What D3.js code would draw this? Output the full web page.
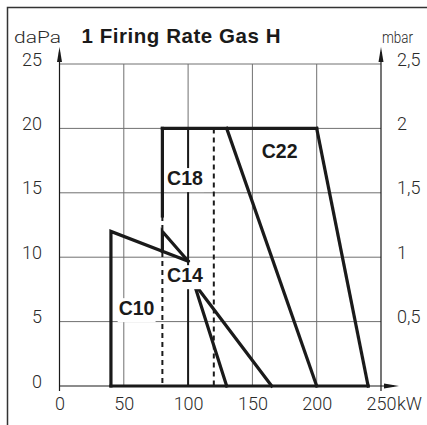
<!DOCTYPE html>
<html><head><meta charset="utf-8">
<script src="https://cdn.jsdelivr.net/npm/d3@7"></script>
<style>
html,body{margin:0;padding:0;background:#fff;}
svg{display:block;}
.light{font-family:Roboto,"DejaVu Sans",sans-serif;font-weight:300;fill:#2a2a2a;}
.bold{font-family:"Liberation Sans",Arial,sans-serif;font-weight:bold;fill:#1a1a1a;}
</style></head>
<body>
<script>
// ---- data ----
const title = "1 Firing Rate Gas H";
const leftUnit = "daPa";
const rightUnit = "mbar";
const xUnit = "kW";
const xTicks = [0, 50, 100, 150, 200, 250];
const yTicks = [0, 5, 10, 15, 20, 25];
const mbarTickValues = [0.5, 1, 1.5, 2, 2.5];
const mbarTickLabels = ["0,5", "1", "1,5", "2", "2,5"];
const curveNames = ["C10", "C18", "C14", "C22"];
// thick solid curve segments [kW, daPa]
const c10Line = [[40, 0], [40, 12], [100, 9.7]];
const c18Upper = [[80, 20], [80, 13.2]];
const c18Wedge = [[80, 10.47], [80, 12], [100, 9.7]];
const c14Left = [[104.5, 8], [130, 0]];
const c14Right = [[104.5, 8], [165, 0]];
const c22Top = [[80, 20], [200, 20]];
const c22Left = [[130, 20], [200, 0]];
const c22Right = [[200, 20], [240, 0]];
const baseLine = [[40, 0], [240, 0]];
// medium solid
const c14Edge = [[100, 20], [100, 0]];
// dashed
const dash80 = [[80, 13.2], [80, 0]];
const dash120 = [[120, 20], [120, 0]];
// label anchors [kW, daPa]
const labelAnchors = {C10: [59.9, 5.5], C18: [97.6, 15.6], C14: [97.6, 8.06], C22: [171.2, 17.7]};

// ---- chart ----
const W = 427, H = 425;
const svg = d3.select("body").append("svg").attr("width", W).attr("height", H);
const x = d3.scaleLinear().domain([0, 250]).range([59.5, 381]);
const y = d3.scaleLinear().domain([0, 25]).range([386, 64]);
const yMbar = d3.scaleLinear().domain([0, 2.5]).range([386, 64]);
const line = d3.line().x(d => x(d[0])).y(d => y(d[1]));

// page frame (top + left)
svg.append("path").attr("d", `M7.5,${H} L7.5,7.5 L${W},7.5`)
  .attr("fill", "none").attr("stroke", "#333").attr("stroke-width", 1.5);

// grid
const grid = svg.append("g").attr("stroke", "#707070").attr("stroke-width", 1);
xTicks.slice(1, -1).forEach(v => grid.append("line")
  .attr("x1", x(v)).attr("x2", x(v)).attr("y1", y(0)).attr("y2", y(25)));
yTicks.slice(1).forEach(v => grid.append("line")
  .attr("x1", x(0)).attr("x2", x(250)).attr("y1", y(v)).attr("y2", y(v)));

// axes lines with arrows
const ax = svg.append("g").attr("stroke", "#1a1a1a").attr("stroke-width", 1.2);
ax.append("line").attr("x1", x(0)).attr("x2", x(0)).attr("y1", y(0) + 5).attr("y2", 52);
ax.append("line").attr("x1", x(250)).attr("x2", x(250)).attr("y1", y(0) + 5).attr("y2", 52);
ax.append("line").attr("x1", x(0)).attr("x2", 394).attr("y1", y(0)).attr("y2", y(0));
const arr = svg.append("g").attr("fill", "#1a1a1a");
[x(0), x(250)].forEach(px => arr.append("path")
  .attr("d", `M${px},47 L${px - 2.5},62 L${px + 2.5},62 Z`));
arr.append("path").attr("d", `M399,${y(0)} L384,${y(0) - 2.5} L384,${y(0) + 2.5} Z`);

// x-axis labels
const xAxis = d3.axisBottom(x).tickValues(xTicks).tickSize(0).tickPadding(0).tickFormat(d3.format("d"));
const gx = svg.append("g").attr("transform", `translate(0,${y(0)})`).call(xAxis);
gx.select(".domain").remove();
gx.selectAll("text").attr("class", "light").attr("font-size", 18).attr("fill", null)
  .attr("dy", null).attr("y", 24);
svg.append("text").attr("class", "light").attr("font-size", 18)
  .attr("x", x(250) + 16).attr("y", y(0) + 24).text(xUnit);

// left axis labels
const yAxis = d3.axisLeft(y).tickValues(yTicks).tickSize(0).tickPadding(0).tickFormat(d3.format("d"));
const gy = svg.append("g").attr("transform", `translate(42,0)`).call(yAxis);
gy.select(".domain").remove();
gy.selectAll("text").attr("class", "light").attr("font-size", 18).attr("fill", null)
  .attr("dy", null).attr("y", 1).attr("x", 0);

// right axis labels
const yAxisR = d3.axisRight(yMbar).tickValues(mbarTickValues).tickSize(0).tickPadding(0)
  .tickFormat((d, i) => mbarTickLabels[i]);
const gyr = svg.append("g").attr("transform", `translate(397,0)`).call(yAxisR);
gyr.select(".domain").remove();
gyr.selectAll("text").attr("class", "light").attr("font-size", 18).attr("fill", null)
  .attr("dy", null).attr("y", 1).attr("x", 0);

// units & title
svg.append("text").attr("class", "light").attr("font-size", 17)
  .attr("x", 14).attr("y", 43).attr("textLength", 47).attr("lengthAdjust", "spacingAndGlyphs").text(leftUnit);
svg.append("text").attr("class", "light").attr("font-size", 17)
  .attr("x", 382).attr("y", 43).attr("textLength", 31).attr("lengthAdjust", "spacingAndGlyphs").text(rightUnit);
svg.append("text").attr("class", "bold").attr("font-size", 20.5)
  .attr("x", 81.5).attr("y", 43).attr("textLength", 199).attr("lengthAdjust", "spacing").text(title);

// dashed lines
const dg = svg.append("g").attr("fill", "none").attr("stroke", "#1a1a1a")
  .attr("stroke-width", 2).attr("stroke-dasharray", "5,4");
[dash80, dash120].forEach(d => dg.append("path").attr("d", line(d)));

// medium line at 100
svg.append("path").attr("d", line(c14Edge)).attr("fill", "none")
  .attr("stroke", "#1a1a1a").attr("stroke-width", 2);

// thick curves
const cg = svg.append("g").attr("fill", "none").attr("stroke", "#1a1a1a")
  .attr("stroke-width", 3.2).attr("stroke-linejoin", "miter").attr("stroke-linecap", "square");
[c10Line, c18Upper, c18Wedge, c14Left, c14Right, c22Top, c22Left, c22Right, baseLine]
  .forEach(d => cg.append("path").attr("d", line(d)));

// curve labels with white backing
curveNames.forEach(name => {
  const [kx, ky] = labelAnchors[name];
  const g = svg.append("g");
  const t = g.append("text").attr("class", "bold").attr("font-size", 19.5)
    .attr("text-anchor", "middle").attr("x", x(kx)).attr("y", y(ky)).text(name);
  const bb = t.node().getBBox();
  g.insert("rect", "text").attr("x", bb.x - 1).attr("y", bb.y + 1)
    .attr("width", bb.width + 2).attr("height", bb.height + 2).attr("fill", "#fff");
});
</script>
</body></html>
